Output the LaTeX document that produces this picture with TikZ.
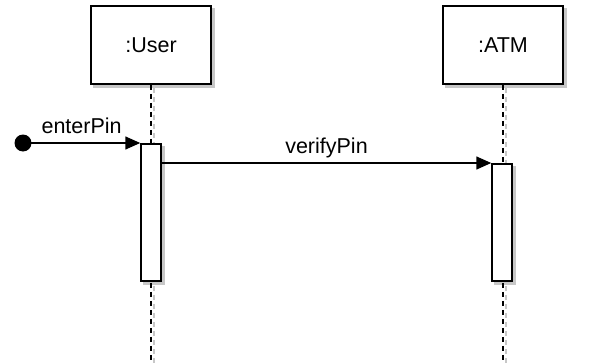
\documentclass[tikz,border=0pt]{standalone}
\usepackage{fontspec}
\setmainfont{Liberation Sans}
\usetikzlibrary{arrows.meta,backgrounds}
\begin{document}
\begin{tikzpicture}[x=1pt,y=-1pt,
  font=\fontsize{21.5}{25}\selectfont,
  shadowcol/.style={black!22},
  objbox/.style={draw=black,line width=1.5pt,fill=white,minimum width=120pt,minimum height=78pt,inner sep=0pt},
  actbox/.style={draw=black,line width=1.5pt,fill=white,minimum width=20pt,inner sep=0pt,anchor=north},
  lifeline/.style={line width=1.5pt,dash pattern=on 5pt off 4pt},
  msg/.style={line width=1.5pt,-{Triangle[length=15pt,width=13pt]}},
  lbl/.style={anchor=base,yshift=10pt,inner sep=0pt}]
\useasboundingbox (0,0) rectangle (605,364);
\coordinate (uend) at (151,360);
\coordinate (aend) at (503,360);
\node[objbox] (user) at (151,45) {:User};
\node[objbox] (atm) at (503,45) {:ATM};
\draw[lifeline] (user.south) -- (uend);
\draw[lifeline] (atm.south) -- (aend);
\node[actbox,minimum height=137pt] (ua) at (151,143) {};
\node[actbox,minimum height=117pt] (aa) at (502,163) {};
\node[circle,fill=black,minimum size=17pt,inner sep=0pt] (dot) at (23,143) {};
\draw[msg] (dot.center) -- node[lbl,midway] {enterPin} (ua.north west);
\coordinate (vstart) at (ua.east |- aa.north west);
\draw[msg] (vstart) -- node[lbl,midway] {verifyPin} (aa.north west);
% shadows
\begin{scope}[on background layer]
  \foreach \n in {user,atm,ua,aa}{
    \fill[shadowcol] ([shift={(3,3)}]\n.north west) rectangle ([shift={(3,3)}]\n.south east);
  }
  \draw[shadowcol,lifeline,transform canvas={shift={(3pt,-3pt)}}] (user.south) -- (uend);
  \draw[shadowcol,lifeline,transform canvas={shift={(3pt,-3pt)}}] (atm.south) -- (aend);
\end{scope}
\end{tikzpicture}
\end{document}
